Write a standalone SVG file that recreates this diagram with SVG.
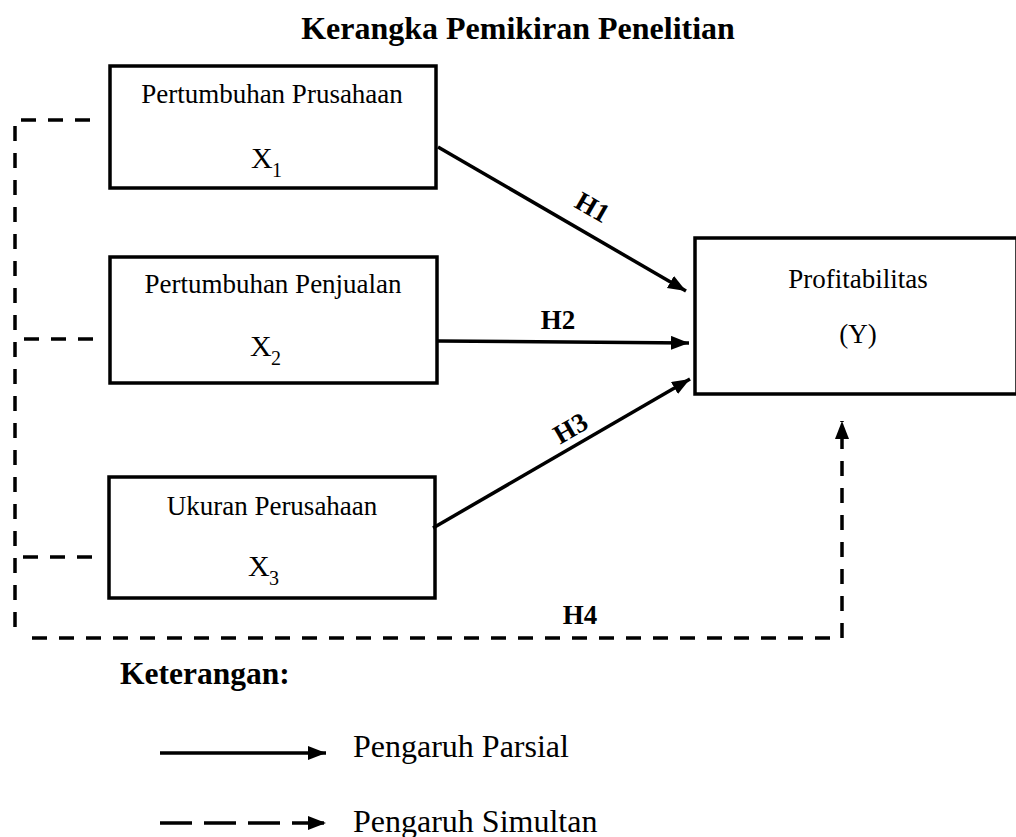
<svg xmlns="http://www.w3.org/2000/svg" width="1016" height="837" viewBox="0 0 1016 837">
<style>
.box{fill:#fff;stroke:#000;stroke-width:3.5}
.t{font-family:"Liberation Serif",serif;font-size:27px;fill:#000}
.lg{font-family:"Liberation Serif",serif;font-size:32px;fill:#000}
.x{font-family:"Liberation Serif",serif;font-size:30px;fill:#000}
.sub{font-family:"Liberation Serif",serif;font-size:20px;fill:#000}
.b{font-family:"Liberation Serif",serif;font-weight:bold;fill:#000}
.h{font-family:"Liberation Serif",serif;font-weight:bold;font-size:27px;fill:#000}
.solid{stroke:#000;stroke-width:3.5;fill:none}
.dash{stroke:#000;stroke-width:3.5;fill:none;stroke-dasharray:15 12}
</style>
<defs>
<marker id="ah" markerUnits="userSpaceOnUse" markerWidth="20" markerHeight="16" refX="18" refY="7" orient="auto">
<path d="M0,0 L18,7 L0,14 Z" fill="#000"/>
</marker>
</defs>
<text class="b" x="518" y="39" font-size="32" text-anchor="middle">Kerangka Pemikiran Penelitian</text>
<g id="x1">
<rect class="box" x="110" y="66" width="326" height="122"/>
<text class="t" x="272" y="103" text-anchor="middle">Pertumbuhan Prusahaan</text>
<text class="x" x="251" y="168">X</text><text class="sub" x="272" y="177">1</text>
</g>
<g id="x2">
<rect class="box" x="110" y="257" width="327" height="126"/>
<text class="t" x="273" y="293" text-anchor="middle">Pertumbuhan Penjualan</text>
<text class="x" x="250" y="356">X</text><text class="sub" x="271" y="365">2</text>
</g>
<g id="x3">
<rect class="box" x="109" y="477" width="326" height="121"/>
<text class="t" x="272" y="515" text-anchor="middle">Ukuran Perusahaan</text>
<text class="x" x="248" y="576">X</text><text class="sub" x="269" y="585">3</text>
</g>
<g id="y">
<rect class="box" x="695" y="238" width="322" height="156"/>
<text class="t" x="858" y="288" text-anchor="middle">Profitabilitas</text>
<text class="t" x="858" y="343" text-anchor="middle">(Y)</text>
</g>
<g id="connectors">
<line class="solid" x1="438" y1="147" x2="686" y2="291" marker-end="url(#ah)"/>
<line class="solid" x1="438" y1="341" x2="689" y2="343" marker-end="url(#ah)"/>
<line class="solid" x1="433" y1="528" x2="690" y2="379" marker-end="url(#ah)"/>
<path class="dash" d="M90,120 H15 V636"/>
<line class="dash" x1="93" y1="339" x2="15" y2="339"/>
<line class="dash" x1="92" y1="557" x2="15" y2="557"/>
<path class="dash" d="M32,638 H842 V421" marker-end="url(#ah)"/>
<text class="h" transform="translate(588,215) rotate(30)" text-anchor="middle">H1</text>
<text class="h" x="558" y="329" text-anchor="middle">H2</text>
<text class="h" transform="translate(575,436) rotate(-30)" text-anchor="middle">H3</text>
<text class="h" x="580" y="624" text-anchor="middle">H4</text>
</g>
<g id="legend">
<text class="b" font-size="31.5" x="120" y="684">Keterangan:</text>
<line class="solid" x1="160" y1="753" x2="326" y2="753" marker-end="url(#ah)"/>
<text class="lg" x="353" y="757">Pengaruh Parsial</text>
<line stroke="#000" stroke-width="3.5" stroke-dasharray="32 12" x1="160" y1="823" x2="326" y2="823" marker-end="url(#ah)"/>
<text class="lg" x="353" y="832">Pengaruh Simultan</text>
</g>
</svg>
